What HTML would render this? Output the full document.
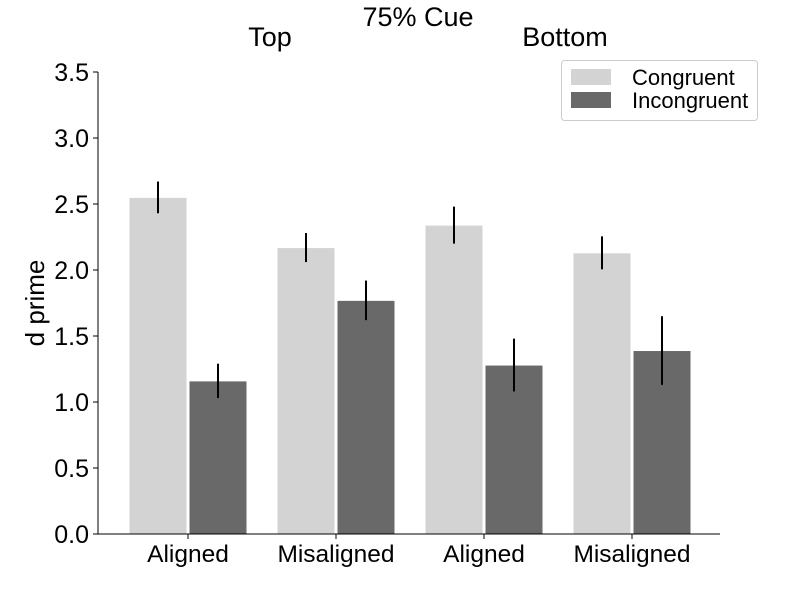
<!DOCTYPE html>
<html><head><meta charset="utf-8"><style>
body{margin:0;background:#fff;}
svg{font-family:"Liberation Sans",Arial,sans-serif;}
</style></head><body>
<svg id="chart" width="800" height="600">
<text x="418" y="26" font-size="27" text-anchor="middle">75% Cue</text>
<text x="270" y="46" font-size="27" text-anchor="middle">Top</text>
<text x="565" y="46" font-size="27" text-anchor="middle">Bottom</text>
<text transform="translate(44,303) rotate(-90)" font-size="26" text-anchor="middle">d prime</text>
<g id="marks"></g>
<g id="axes"></g>
<g>
<rect x="561.5" y="60.5" width="196" height="60" rx="3" fill="#fff" stroke="#ccc"/>
<rect x="571" y="69" width="40" height="16" fill="#d3d3d3"/>
<text x="632" y="85" font-size="22">Congruent</text>
<rect x="571" y="92" width="40" height="16" fill="#696969"/>
<text x="632" y="108" font-size="22">Incongruent</text>
</g>
</svg>
<script>
const categories=["Aligned","Misaligned","Aligned","Misaligned"];
const congruent=[2.55,2.17,2.34,2.13];
const incongruent=[1.16,1.77,1.28,1.39];
const congruentErr=[0.12,0.11,0.14,0.125];
const incongruentErr=[0.13,0.15,0.2,0.26];
const yTicks=[0,0.5,1.0,1.5,2.0,2.5,3.0,3.5];
const NS="http://www.w3.org/2000/svg";
const y0=534,yTop=72,yMax=3.5,xL=98,xR=720;
function ys(v){return y0-(v/yMax)*(y0-yTop);}
function xc(i){return 188+i*148;}
const marks=document.getElementById('marks'),axes=document.getElementById('axes');
function mk(tag,attrs,parent){const e=document.createElementNS(NS,tag);for(const k in attrs)e.setAttribute(k,attrs[k]);parent.appendChild(e);return e;}
const bw=58;
categories.forEach((c,i)=>{
  [[congruent,congruentErr,"#d3d3d3",-1,"congruent"],[incongruent,incongruentErr,"#696969",0,"incongruent"]].forEach(([vals,errs,col,off,nm])=>{
    const x=xc(i)+off*bw+(off===0?1:-1);
    const r=mk('rect',{x:x,y:ys(vals[i]),width:bw,height:y0-ys(vals[i]),fill:col,stroke:"#fff","stroke-width":1},marks);
    
    
    const e=mk('line',{x1:x+bw/2,x2:x+bw/2,y1:ys(vals[i]+errs[i]),y2:ys(vals[i]-errs[i]),stroke:"#000","stroke-width":2},marks);
    
    
  });
  const t=mk('text',{x:xc(i),y:y0+28,"font-size":24.5,"text-anchor":"middle"},axes);
  t.textContent=c;
  
  
  mk('line',{x1:xc(i),x2:xc(i),y1:y0,y2:y0+5,stroke:"#000"},axes);
});
yTicks.forEach(v=>{
  mk('line',{x1:xL-5,x2:xL,y1:ys(v),y2:ys(v),stroke:"#000"},axes);
  const t=mk('text',{x:xL-9,y:ys(v)+9,"font-size":25,"text-anchor":"end"},axes);
  t.textContent=v.toFixed(1);
  
  
});
const ya=mk('line',{x1:xL,x2:xL,y1:yTop,y2:y0,stroke:"#000"},axes);


const xa=mk('line',{x1:xL,x2:xR,y1:y0,y2:y0,stroke:"#000"},axes);


</script>
</body></html>
